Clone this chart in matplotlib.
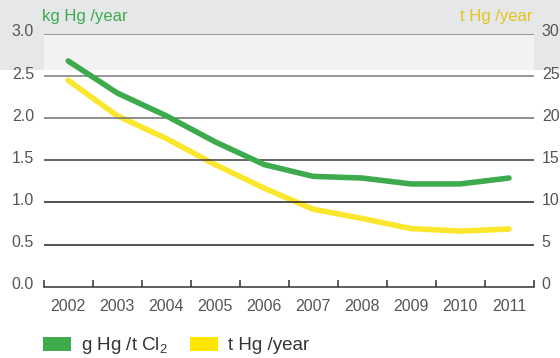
import matplotlib
matplotlib.use("Agg")
import matplotlib.pyplot as plt
from matplotlib import font_manager
from matplotlib.patches import Patch, Rectangle
import matplotlib.transforms as mtransforms

years = ["2002", "2003", "2004", "2005", "2006", "2007", "2008", "2009", "2010", "2011"]
g_hg_per_t_cl2 = [2.68, 2.30, 2.03, 1.72, 1.45, 1.31, 1.29, 1.22, 1.22, 1.29]
t_hg_per_year = [24.5, 20.3, 17.6, 14.5, 11.7, 9.2, 8.1, 6.9, 6.6, 6.85]
left_ticks = [0.0, 0.5, 1.0, 1.5, 2.0, 2.5, 3.0]
right_ticks = [0, 5, 10, 15, 20, 25, 30]

names = {f.name for f in font_manager.fontManager.ttflist}
font = "Liberation Sans Narrow" if "Liberation Sans Narrow" in names else "Liberation Sans"
plt.rcParams["font.family"] = [font, "DejaVu Sans"]
plt.rcParams["mathtext.default"] = "regular"

GREEN = "#3eaa4e"
YELLOW = "#fbe62e"
TXT = "#555555"

fig = plt.figure(figsize=(5.6, 3.58), dpi=100)
fig.patch.set_facecolor("white")
fig.patches.append(Rectangle((0, 1 - 70 / 358), 1, 70 / 358, transform=fig.transFigure,
                             facecolor="#e6e7e9", edgecolor="none", zorder=-10))

ax = fig.add_axes([43.7 / 560, 1 - 286.7 / 358, (533.5 - 43.7) / 560, (286.7 - 34) / 358])
ax.set_facecolor("none")
ax.set_xlim(-0.5, len(years) - 0.5)
ax.set_ylim(0, 3.0)
ax.axhspan(2.574, 3.0, facecolor="#f2f2f2", edgecolor="none", zorder=0)
grid_colors = {0.5: "#333333", 1.0: "#333333", 1.5: "#4a4a4a", 2.0: "#7a7a7a", 2.5: "#858585", 3.0: "#858585"}
for v in left_ticks[1:]:
    ax.axhline(v, color=grid_colors[v], lw=1.2, zorder=1)

x = list(range(len(years)))
ax2 = ax.twinx()
ax2.set_ylim(0, 30)
ax2.plot(x, t_hg_per_year, color=YELLOW, lw=4.0, solid_capstyle="round", solid_joinstyle="round", zorder=3)
ax.set_zorder(ax2.get_zorder() + 1)
ax.plot(x, g_hg_per_t_cl2, color=GREEN, lw=4.0, solid_capstyle="round", solid_joinstyle="round", zorder=3)

for a in (ax, ax2):
    for s in ("top", "left", "right"):
        a.spines[s].set_visible(False)
ax2.spines["bottom"].set_visible(False)
ax.spines["bottom"].set_color("#333333")
ax.spines["bottom"].set_linewidth(1.1)

ax.set_xticks(x)
ax.set_xticklabels(years)
ax.set_xticks([i - 0.5 for i in range(len(years) + 1)], minor=True)
ax.tick_params(axis="x", which="major", length=0, pad=8.5, labelsize=11.5, labelcolor=TXT)
ax.tick_params(axis="x", which="minor", length=5, direction="in", color="#333333", width=1.1)

ax.set_yticks(left_ticks)
ax.set_yticklabels([f"{v:.1f}" for v in left_ticks])
ax.tick_params(axis="y", length=0, pad=7, labelsize=11.5, labelcolor=TXT)
ax2.set_yticks(right_ticks)
ax2.set_yticklabels([str(v) for v in right_ticks])
ax2.tick_params(axis="y", length=0, pad=6, labelsize=11.5, labelcolor=TXT)

off = mtransforms.ScaledTranslation(0, 3.5 / 100, fig.dpi_scale_trans)
for lab in ax.get_yticklabels() + ax2.get_yticklabels():
    lab.set_transform(lab.get_transform() + off)

fig.text(42 / 560, 1 - 17 / 358, "kg Hg /year", color=GREEN, fontsize=12, ha="left", va="center")
fig.text(533 / 560, 1 - 17 / 358, "t Hg /year", color="#e3c51a", fontsize=12, ha="right", va="center")

handles = [Patch(facecolor="#3eaa4e", edgecolor="none"), Patch(facecolor="#ffe500", edgecolor="none")]
fig.legend(handles, ["g Hg /t Cl$_2$", "t Hg /year"], loc="center left",
           bbox_to_anchor=(43 / 560, 1 - 346 / 358), ncol=2, frameon=False,
           fontsize=13.5, handlelength=1.5, handleheight=0.75, handletextpad=0.53,
           columnspacing=1.15, borderpad=0, borderaxespad=0, labelcolor="#333333")

fig.savefig("out.png", dpi=100)
